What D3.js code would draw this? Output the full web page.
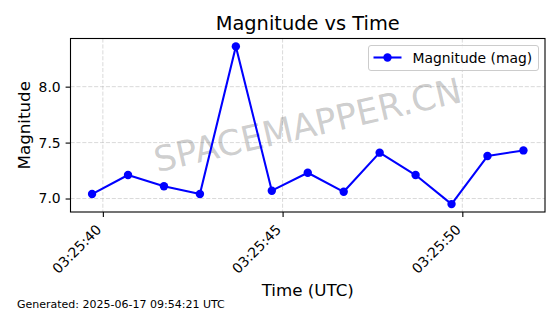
<!DOCTYPE html>
<html>
<head>
<meta charset="utf-8">
<script src="https://cdn.jsdelivr.net/npm/d3@7"></script>
<style>
  body { margin: 0; background: #fff; }
  text { font-family: "DejaVu Sans", sans-serif; }
</style>
</head>
<body>
<svg id="chart" width="560" height="314"></svg>
<script>
const times = [
  "2025-06-17T03:25:39.700Z", "2025-06-17T03:25:40.700Z", "2025-06-17T03:25:41.700Z",
  "2025-06-17T03:25:42.700Z", "2025-06-17T03:25:43.700Z", "2025-06-17T03:25:44.700Z",
  "2025-06-17T03:25:45.700Z", "2025-06-17T03:25:46.700Z", "2025-06-17T03:25:47.700Z",
  "2025-06-17T03:25:48.700Z", "2025-06-17T03:25:49.700Z", "2025-06-17T03:25:50.700Z",
  "2025-06-17T03:25:51.700Z"
];
const magnitudes = [7.04, 7.21, 7.11, 7.04, 8.36, 7.07, 7.23, 7.06, 7.41, 7.21, 6.95, 7.38, 7.43];
const yTicks = [7.0, 7.5, 8.0];
const seriesName = "Magnitude (mag)";
const generatedText = "Generated: 2025-06-17 09:54:21 UTC";

const svg = d3.select("#chart");
const plotLeft = 70.5, plotRight = 545, plotTop = 38.5, plotBottom = 212;

const data = times.map((t, i) => ({ t: new Date(t), v: magnitudes[i] }));

// matplotlib style 5% padding on both axes
const tExt = d3.extent(data, d => d.t);
const tPad = (tExt[1] - tExt[0]) * 0.05;
const vExt = d3.extent(data, d => d.v);
const vPad = (vExt[1] - vExt[0]) * 0.05;

const x = d3.scaleUtc()
  .domain([new Date(+tExt[0] - tPad), new Date(+tExt[1] + tPad)])
  .range([plotLeft, plotRight]);
const y = d3.scaleLinear()
  .domain([vExt[0] - vPad, vExt[1] + vPad])
  .range([plotBottom, plotTop]);

const xTicks = x.ticks(d3.utcSecond.every(5));
const fmt = d3.utcFormat("%H:%M:%S");

// Grid
const grid = svg.append("g")
  .attr("stroke", "#b0b0b0").attr("stroke-opacity", 0.6)
  .attr("stroke-width", 0.8).attr("stroke-dasharray", "4.1,1.8");
grid.selectAll(".gx").data(xTicks).join("line")
  .attr("x1", d => x(d)).attr("x2", d => x(d)).attr("y1", plotTop).attr("y2", plotBottom);
grid.selectAll(".gy").data(yTicks).join("line")
  .attr("x1", plotLeft).attr("x2", plotRight).attr("y1", d => y(d)).attr("y2", d => y(d));

// Watermark
svg.append("text")
  .attr("transform", `translate(${(plotLeft + plotRight) / 2},${(plotTop + plotBottom) / 2}) rotate(-13)`)
  .attr("text-anchor", "middle").attr("dominant-baseline", "central")
  .attr("font-size", 35).attr("fill", "#808080").attr("fill-opacity", 0.4)
  .text("SPACEMAPPER.CN");

// Series
svg.append("path")
  .datum(data)
  .attr("fill", "none").attr("stroke", "#0000ff").attr("stroke-width", 2.08)
  .attr("stroke-linejoin", "round")
  .attr("d", d3.line().x(d => x(d.t)).y(d => y(d.v)));
svg.append("g").selectAll("circle").data(data).join("circle")
  .attr("cx", d => x(d.t)).attr("cy", d => y(d.v)).attr("r", 4.2)
  .attr("fill", "#0000ff");

// Axes
const xAxis = svg.append("g")
  .attr("transform", `translate(0,${plotBottom})`)
  .call(d3.axisBottom(x).tickValues(xTicks).tickFormat(fmt).tickSizeInner(4.9).tickSizeOuter(0).tickPadding(4.9));
xAxis.select(".domain").remove();
xAxis.selectAll(".tick line").attr("stroke", "#000").attr("stroke-width", 1.1);
xAxis.selectAll(".tick text")
  .attr("font-size", 13.9).attr("fill", "#000")
  .attr("text-anchor", "end")
  .attr("x", 0).attr("y", 0).attr("dy", null)
  .attr("transform", "translate(-1,18.5) rotate(-45)");

const yAxis = svg.append("g")
  .attr("transform", `translate(${plotLeft},0)`)
  .call(d3.axisLeft(y).tickValues(yTicks).tickFormat(d3.format(".1f")).tickSizeInner(4.9).tickSizeOuter(0).tickPadding(4.9));
yAxis.select(".domain").remove();
yAxis.selectAll(".tick line").attr("stroke", "#000").attr("stroke-width", 1.1);
yAxis.selectAll(".tick text").attr("font-size", 13.9).attr("fill", "#000");

// Frame
svg.append("rect")
  .attr("x", plotLeft).attr("y", plotTop).attr("width", plotRight - plotLeft).attr("height", plotBottom - plotTop)
  .attr("fill", "none").attr("stroke", "#000").attr("stroke-width", 1.1);

// Legend
const lg = svg.append("g");
lg.append("rect")
  .attr("x", 368.5).attr("y", 45.5).attr("width", 170).attr("height", 25)
  .attr("rx", 2.5).attr("fill", "#fff").attr("fill-opacity", 0.8)
  .attr("stroke", "#cccccc").attr("stroke-width", 1);
lg.append("line")
  .attr("x1", 373.5).attr("x2", 401.5).attr("y1", 57.5).attr("y2", 57.5)
  .attr("stroke", "#0000ff").attr("stroke-width", 2.08);
lg.append("circle").attr("cx", 387.5).attr("cy", 57.5).attr("r", 4.2).attr("fill", "#0000ff");
lg.append("text").attr("x", 412.5).attr("y", 62.5)
  .attr("font-size", 13.9).attr("fill", "#000").text(seriesName);

// Titles
svg.append("text")
  .attr("x", (plotLeft + plotRight) / 2).attr("y", 30)
  .attr("text-anchor", "middle").attr("font-size", 19.4).attr("fill", "#000")
  .text("Magnitude vs Time");
svg.append("text")
  .attr("x", (plotLeft + plotRight) / 2).attr("y", 296)
  .attr("text-anchor", "middle").attr("font-size", 16.7).attr("fill", "#000")
  .text("Time (UTC)");
svg.append("text")
  .attr("transform", `translate(30,${(plotTop + plotBottom) / 2}) rotate(-90)`)
  .attr("text-anchor", "middle").attr("font-size", 16.7).attr("fill", "#000")
  .text("Magnitude");
svg.append("text")
  .attr("x", 17).attr("y", 308)
  .attr("font-size", 11).attr("fill", "#000")
  .text(generatedText);
</script>
</body>
</html>
